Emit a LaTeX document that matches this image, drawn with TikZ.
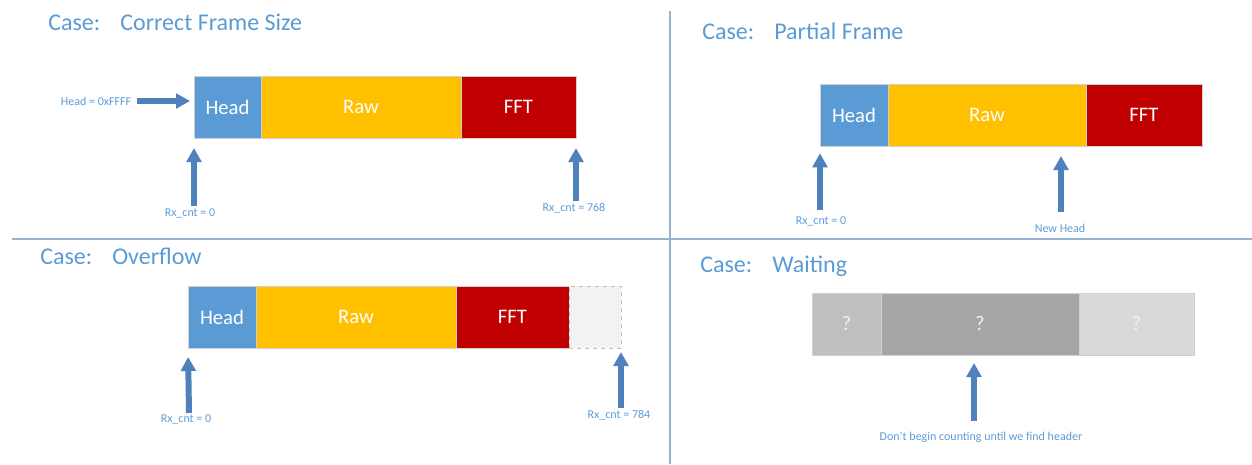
\documentclass[tikz,border=0pt]{standalone}
\usepackage{fontspec}
\setmainfont{Carlito}
\usetikzlibrary{arrows.meta}
\definecolor{headblue}{HTML}{5B9BD5}
\definecolor{rawyellow}{HTML}{FFC000}
\definecolor{fftred}{HTML}{C00000}
\definecolor{txtblue}{HTML}{5B9BD5}
\definecolor{arrowblue}{HTML}{4F81BD}
\definecolor{rulecol}{HTML}{95B0D0}
\definecolor{segedge}{HTML}{D0D0D0}
\definecolor{emptyfill}{HTML}{F2F2F2}
\definecolor{qa}{HTML}{BFBFBF}
\definecolor{qb}{HTML}{A6A6A6}
\definecolor{qc}{HTML}{D9D9D9}
\begin{document}
\begin{tikzpicture}[x=0.75pt,y=-0.75pt,
  seg/.style={draw=segedge, line width=0.5pt, inner sep=0pt, outer sep=0pt,
    minimum height=62*0.75pt, anchor=north west, text=white,
    font=\fontsize{15.5}{17}\selectfont},
  pxw/.style={minimum width=#1*0.75pt},
  title/.style={anchor=base west, text=txtblue, inner sep=0pt,
    font=\fontsize{18}{21}\selectfont},
  small/.style={text=txtblue, inner sep=0pt, font=\fontsize{9}{10}\selectfont},
  blk/.style={draw=arrowblue, line width=4.5pt,
    -{Triangle[width=11pt,length=10.5pt]}},
  divider/.style={draw=rulecol, line width=1.5pt}]
\useasboundingbox (0,0) rectangle (1252,464);

% dividers between the four cases
\draw[divider] (670,11) -- (670,464);
\draw[divider] (12,239) -- (1252,239);

% ---- correct frame size
\node[title] (t1) at (48,30) {Case:\hspace{15pt}Correct Frame Size};
\node[seg,pxw=67,fill=headblue] (h1) at (194,76) {Head};
\node[seg,pxw=200,fill=rawyellow] (r1) at (h1.north east) {Raw};
\node[seg,pxw=115,fill=fftred] (f1) at (r1.north east) {FFT};
\node[small] (lh1) at (96,101) {Head = 0xFFFF};
\draw[blk,shorten <=4.5pt,shorten >=3pt] (lh1.east) -- (lh1.east -| h1.west);
\node[small] (l1a) at (190,213) {Rx\_cnt = 0};
\coordinate (c1a) at (194,206);
\draw[blk,shorten >=7.5pt] (c1a) -- (h1.south west);
\node[small] (l1b) at (574,208) {Rx\_cnt = 768};
\coordinate (c1b) at (576,201);
\draw[blk,shorten >=7.5pt] (c1b) -- (f1.south east);

% ---- partial frame
\node[title] (t2) at (702,39) {Case:\hspace{15pt}Partial Frame};
\node[seg,pxw=68,fill=headblue] (h2) at (820,84) {Head};
\node[seg,pxw=198,fill=rawyellow] (r2) at (h2.north east) {Raw};
\node[seg,pxw=116,fill=fftred] (f2) at (r2.north east) {FFT};
\node[small] (l2a) at (821,221) {Rx\_cnt = 0};
\coordinate (c2a) at (820,210);
\draw[blk,shorten >=5.5pt] (c2a) -- (h2.south west);
\node[small] (l2b) at (1060,228) {New Head};
\coordinate (c2b) at (1061,212);
\draw[blk,shorten >=7.5pt] (c2b) -- (c2b |- r2.south);

% ---- overflow
\node[title] (t3) at (40,264) {Case:\hspace{15pt}Overflow};
\node[seg,pxw=68,fill=headblue] (h3) at (188,286) {Head};
\node[seg,pxw=200,fill=rawyellow] (r3) at (h3.north east) {Raw};
\node[seg,pxw=113,fill=fftred] (f3) at (r3.north east) {FFT};
\node[seg,pxw=52,fill=emptyfill,draw=qa,dashed] (e3) at (f3.north east) {};
\node[small] (l3a) at (186,419) {Rx\_cnt = 0};
\coordinate (c3a) at (189,413);
\draw[blk,shorten >=6.75pt] (c3a) -- (h3.south west);
\node[small] (l3b) at (619,415) {Rx\_cnt = 784};
\coordinate (c3b) at (621,408);
\draw[blk,shorten >=3pt] (c3b) -- (e3.south east);

% ---- waiting
\node[title] (t4) at (700,272) {Case:\hspace{15pt}Waiting};
\node[seg,pxw=69,fill=qa,text=emptyfill] (w1) at (812,293) {?};
\node[seg,pxw=198,fill=qb,text=emptyfill] (w2) at (w1.north east) {?};
\node[seg,pxw=115,fill=qc,text=emptyfill] (w3) at (w2.north east) {?};
\node[small] (l4) at (981,437) {Don’t begin counting until we find header};
\coordinate (c4) at (974,421);
\draw[blk,shorten >=6pt] (c4) -- (c4 |- w2.south);
\end{tikzpicture}
\end{document}
